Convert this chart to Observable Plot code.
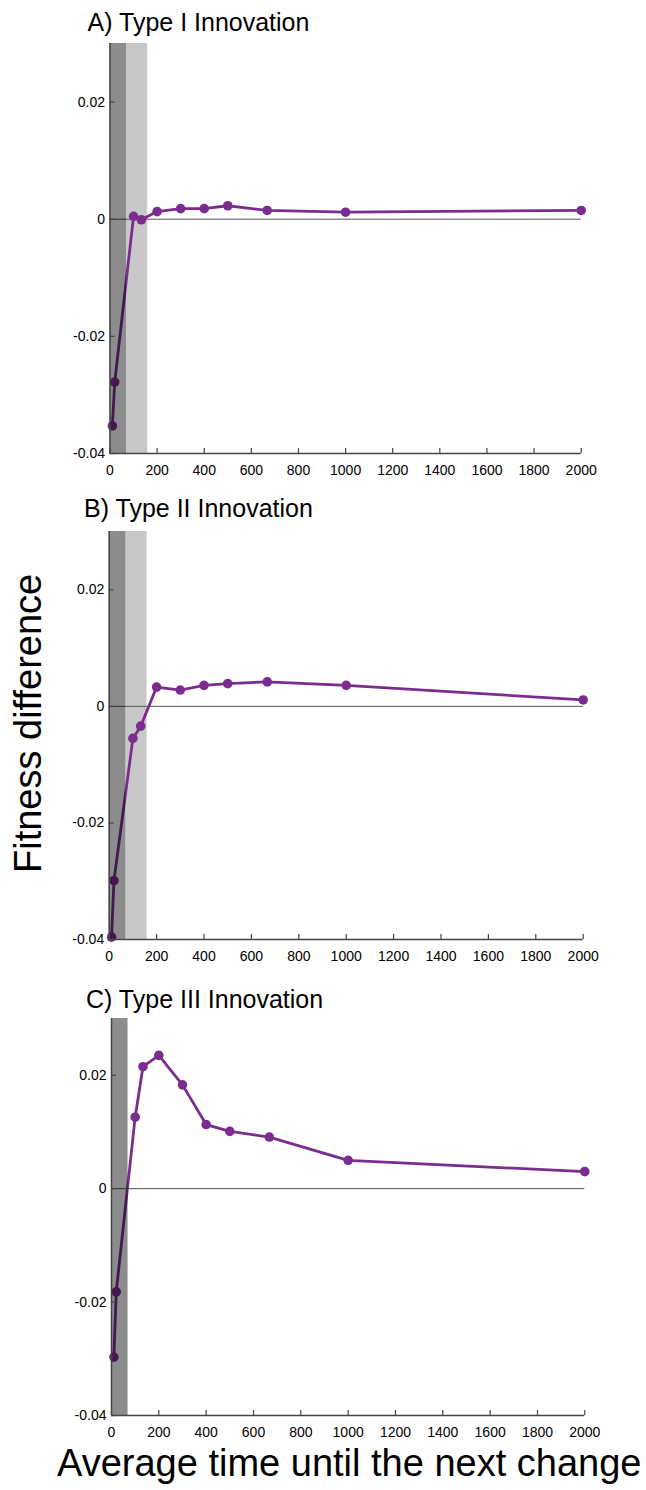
<!DOCTYPE html>
<html><head><meta charset="utf-8">
<script src="https://cdn.jsdelivr.net/npm/d3@7"></script>
<script src="https://cdn.jsdelivr.net/npm/@observablehq/plot@0.6"></script>
<style>
html,body{margin:0;padding:0;background:#fff;}
#root{position:relative;width:646px;height:1490px;overflow:hidden;font-family:"Liberation Sans",Arial,sans-serif;color:#000;}
.lbl{position:absolute;white-space:nowrap;line-height:1;}
.panel{position:absolute;left:0;}
</style></head><body><div id="root"></div>
<script>
// ---- data ----
const times = [10, 20, 100, 133, 200, 300, 400, 500, 667, 1000, 2000];
const typeI   = [-0.0353, -0.0278, 0.0005, -0.0001, 0.0013, 0.0018, 0.0018, 0.0023, 0.0015, 0.0012, 0.0015];
const typeII  = [-0.0396, -0.0299, -0.0055, -0.0034, 0.0033, 0.0028, 0.0036, 0.0039, 0.0042, 0.0036, 0.0011];
const typeIII = [-0.0297, -0.0182, 0.0126, 0.0215, 0.0235, 0.0183, 0.0113, 0.0101, 0.0091, 0.0050, 0.0030];
const xTicks = [0, 200, 400, 600, 800, 1000, 1200, 1400, 1600, 1800, 2000];
const yTicks = [-0.04, -0.02, 0, 0.02];
const xDomain = [0, 2000];
const yDomain = [-0.04, 0.03];
const panelTitles = ["A) Type I Innovation", "B) Type II Innovation", "C) Type III Innovation"];
const bandsI   = [{from: 0, to: 70, shade: "dark"}, {from: 70, to: 160, shade: "light"}];
const bandsII  = [{from: 0, to: 70, shade: "dark"}, {from: 70, to: 160, shade: "light"}];
const bandsIII = [{from: 0, to: 70, shade: "dark"}];
const xLabel = "Average time until the next change";
const yLabel = "Fitness difference";

// ---- layout / style ----
const FONT = '"Liberation Sans", Arial, sans-serif';
const PURPLE = "#7b2d8e";
const layouts = [
  {top: 35,   h: 448, ml: 109.5, mr: 65.3, tx: 87.5, ty: 9.8},
  {top: 523,  h: 446, ml: 108.7, mr: 63.3, tx: 84,   ty: 495.8},
  {top: 1010, h: 435, ml: 111,   mr: 61.7, tx: 86,   ty: 986.8}
];
const root = document.getElementById("root");

function makePanel(values, bands, L) {
  const data = times.map((t, i) => ({t, v: values[i]}));
  const fmt = d => String(d);
  const plot = Plot.plot({
    width: 646, height: L.h,
    marginTop: 8, marginBottom: 30, marginLeft: L.ml, marginRight: L.mr,
    x: {domain: xDomain, ticks: xTicks, label: null},
    y: {domain: yDomain, ticks: yTicks, label: null},
    style: {fontFamily: FONT, fontSize: "14px", color: "#000", background: "transparent", overflow: "visible"},
    marks: [
      Plot.rect(bands.filter(b => b.shade === "light"), {x1: "from", x2: "to", y1: () => yDomain[0], y2: () => yDomain[1], fill: "#c8c8c8"}),
      Plot.ruleY([0], {stroke: "#555", strokeWidth: 1}),
      Plot.line(data, {x: "t", y: "v", stroke: PURPLE, strokeWidth: 2.8}),
      Plot.dot(data, {x: "t", y: "v", r: 4.8, fill: PURPLE}),
      Plot.rect(bands.filter(b => b.shade === "dark"), {x1: "from", x2: "to", y1: () => yDomain[0], y2: () => yDomain[1], fill: "#000", fillOpacity: 0.45}),
      Plot.ruleX([xDomain[0]], {stroke: "#444", strokeWidth: 1.5}),
      Plot.ruleY([yDomain[0]], {stroke: "#444", strokeWidth: 1.5}),
      Plot.axisX({ticks: xTicks, tickFormat: fmt, tickSize: -5, tickPadding: 17, stroke: "#444", strokeWidth: 1.2, label: null}),
      Plot.axisY({ticks: yTicks, tickFormat: fmt, tickSize: -5, tickPadding: 10, stroke: "#444", strokeWidth: 1.2, label: null})
    ]
  });
  plot.classList.add("panel");
  plot.style.top = L.top + "px";
  root.appendChild(plot);
}

function addLabel(text, left, top, size, rotate) {
  const d = document.createElement("div");
  d.className = "lbl";
  d.textContent = text;
  d.style.left = left + "px";
  d.style.top = top + "px";
  d.style.fontSize = size + "px";
  if (rotate) { d.style.transformOrigin = "0 0"; d.style.transform = "rotate(-90deg)"; }
  root.appendChild(d);
}

[typeI, typeII, typeIII].forEach((vals, i) => {
  makePanel(vals, [bandsI, bandsII, bandsIII][i], layouts[i]);
  addLabel(panelTitles[i], layouts[i].tx, layouts[i].ty, 25, false);
});
addLabel(xLabel, 57, 1443.8, 38, false);
addLabel(yLabel, 9, 873, 38, true);
</script></body></html>
